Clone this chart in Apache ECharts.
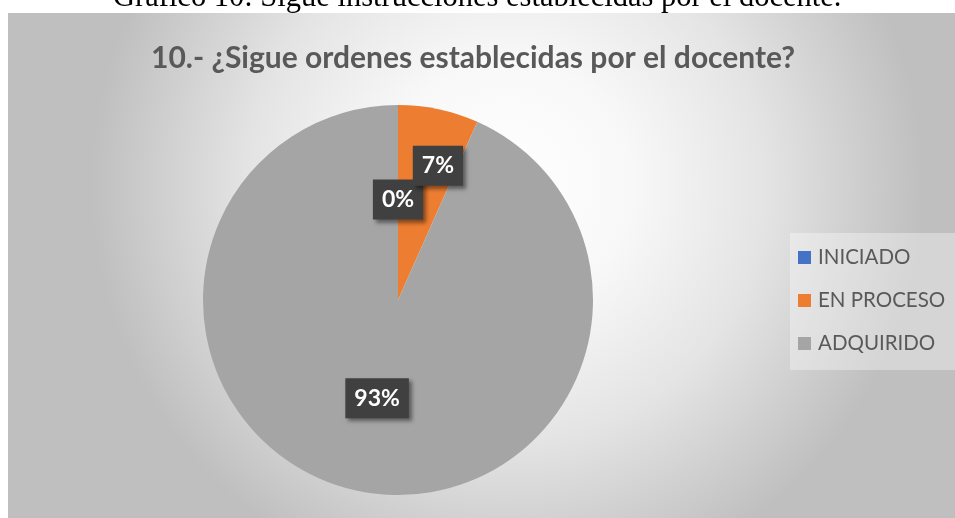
<!DOCTYPE html>
<html><head><meta charset="utf-8">
<script src="https://cdn.jsdelivr.net/npm/echarts@6/dist/echarts.min.js"></script>
<style>html,body{margin:0;padding:0;background:#fff}#c{width:955px;height:518px}</style>
</head><body><div id="c"></div>
<script>
const caption = "Gráfico 10: Sigue instrucciones establecidas por el docente.";
const chartTitle = "10.- ¿Sigue ordenes establecidas por el docente?";
const categories = ["INICIADO", "EN PROCESO", "ADQUIRIDO"];
const counts = [0, 2, 28];
const colors = ["#4472C4", "#ED7D31", "#A5A5A5"];

const chart = echarts.init(document.getElementById('c'));
chart.setOption({
  animation: false,
  graphic: [
    { type: 'rect', shape: { x: 8, y: 13, width: 960, height: 520 }, z: -10,
      style: { fill: { type: 'radial', x: 0.52, y: 0.33, r: 0.8, global: false,
        colorStops: [{ offset: 0, color: '#ffffff' }, { offset: 0.3, color: '#f8f8f8' }, { offset: 0.62, color: '#e4e4e4' }, { offset: 1, color: '#bfbfbf' }] } } },
    { type: 'text', left: 113, top: -18, z: 10,
      style: { text: caption, font: '30.5px "Liberation Serif"', fill: '#000' } }
  ],
  title: {
    text: chartTitle, left: 146, top: 38,
    textStyle: { fontFamily: 'Lato', fontWeight: 'bold', fontSize: 30, color: '#595959' }
  },
  legend: {
    orient: 'vertical', left: 790, top: 233,
    padding: [14, 30, 16, 8], backgroundColor: 'rgba(255,255,255,0.35)',
    icon: 'rect', itemWidth: 13, itemHeight: 13, itemGap: 22,
    textStyle: { fontFamily: 'Lato', fontSize: 20.5, color: '#595959', padding: [0, 0, 0, 2] },
    data: categories
  },
  series: [{
    type: 'pie', center: [398, 300], radius: 195, startAngle: 90, clockwise: true,
    color: colors,
    label: {
      show: true, position: 'inside',
      formatter: p => Math.round(p.percent) + '%',
      fontFamily: 'Lato', fontWeight: 'bold', fontSize: 23, color: '#fff',
      backgroundColor: '#404040', padding: [9, 9, 8, 9],
      shadowBlur: 4, shadowOffsetX: 3, shadowOffsetY: 3, shadowColor: 'rgba(0,0,0,0.45)'
    },
    labelLayout: p => p.dataIndex === 1 ? { dx: 19, dy: -36 } : {},
    labelLine: { show: false },
    itemStyle: { borderWidth: 0 },
    emphasis: { disabled: true },
    data: categories.map((c, i) => ({ name: c, value: counts[i] }))
  }]
});
</script></body></html>
